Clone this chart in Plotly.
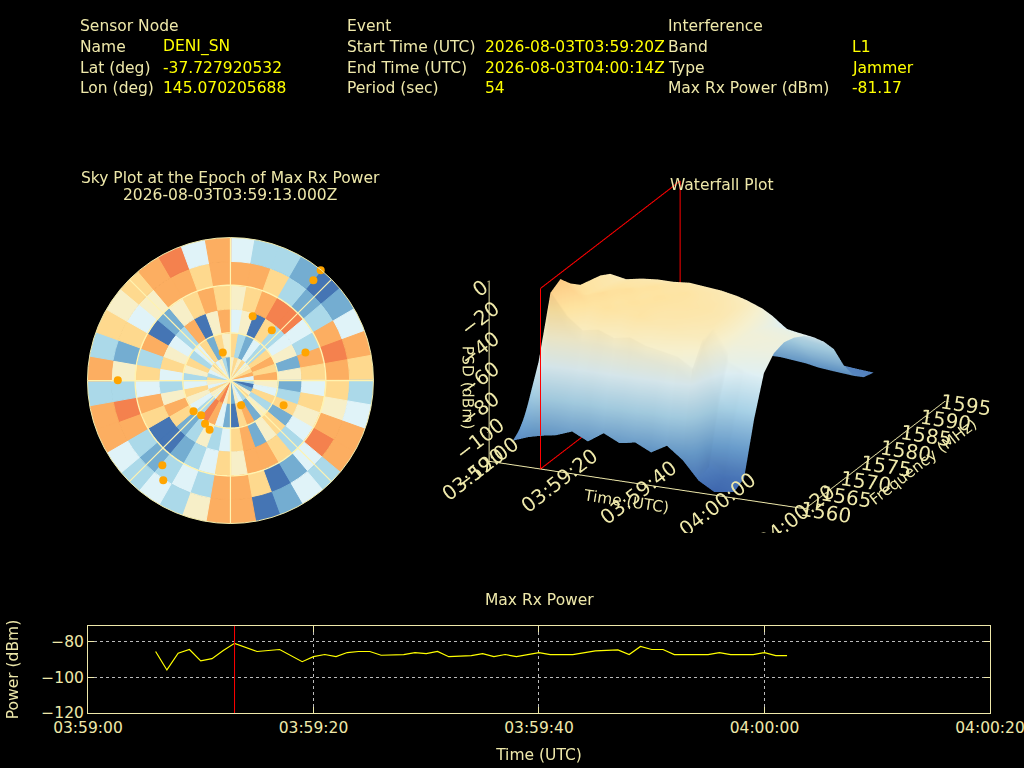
import plotly.graph_objects as go

DAY = "2026-08-03 "
CREAM = "#eee8aa"
YELLOW = "#ffff00"
FONT = "DejaVu Sans"
FS = 15.5

# header block
header_labels = [
    ["Sensor Node", "Name", "Lat (deg)", "Lon (deg)"],
    ["Event", "Start Time (UTC)", "End Time (UTC)", "Period (sec)"],
    ["Interference", "Band", "Type", "Max Rx Power (dBm)"],
]
header_values = [
    ["", "DENI_SN", "-37.727920532", "145.070205688"],
    ["", "2026-08-03T03:59:20Z", "2026-08-03T04:00:14Z", "54"],
    ["", "L1", "Jammer", "-81.17"],
]

# max rx power series
power_times = ["03:59:06", "03:59:07", "03:59:08", "03:59:09", "03:59:10", "03:59:11",
               "03:59:12", "03:59:13", "03:59:15", "03:59:17", "03:59:19", "03:59:20",
               "03:59:21", "03:59:22", "03:59:23", "03:59:24", "03:59:25", "03:59:26",
               "03:59:28", "03:59:29", "03:59:30", "03:59:31", "03:59:32", "03:59:34",
               "03:59:35", "03:59:36", "03:59:37", "03:59:38", "03:59:40", "03:59:41",
               "03:59:43", "03:59:45", "03:59:47", "03:59:48", "03:59:49", "03:59:50",
               "03:59:51", "03:59:52", "03:59:55", "03:59:56", "03:59:57", "03:59:59",
               "04:00:00", "04:00:01", "04:00:02"]
power_dbm = [-85.7, -96.0, -86.7, -84.6, -90.9, -89.7, -85.1, -81.17, -85.7, -84.6, -91.4,
             -88.6, -87.4, -88.6, -86.3, -85.7, -85.7, -87.8, -87.4, -86.3, -86.9, -85.7,
             -88.6, -88.0, -86.9, -88.6, -87.4, -88.6, -86.3, -87.4, -87.4, -85.4, -84.8,
             -87.4, -82.9, -84.6, -84.6, -87.4, -87.4, -86.3, -87.4, -87.4, -86.3, -88.0,
             -88.0]
max_epoch = "03:59:13"
time_ticks = ["03:59:00", "03:59:20", "03:59:40", "04:00:00", "04:00:20"]

# waterfall (PSD per time row, per frequency column)
wf_times = ["03:59:06", "03:59:10", "03:59:13", "03:59:17", "03:59:21", "03:59:25",
            "03:59:29", "03:59:33", "03:59:37", "03:59:41", "03:59:45", "03:59:49",
            "03:59:53", "03:59:57", "04:00:02"]
wf_freqs = [1560, 1562.5, 1565, 1567.5, 1570, 1572.5, 1575, 1577.5, 1580, 1582.5,
            1585, 1587.5, 1590, 1592.5, 1595]
wf_psd = [
    [-104, -98, -88, -84, -86, -88, -90, -92, -94, -96, -98, -100, -103, -106, -108],
    [-100, -55, -35, -30, -32, -34, -36, -40, -48, -58, -70, -85, -98, -104, -106],
    [-98, -8, -4, -12, -18, -20, -22, -26, -35, -48, -62, -80, -96, -103, -106],
    [-96, -22, -12, -18, -20, -22, -24, -28, -36, -46, -60, -78, -95, -102, -105],
    [-92, -30, -20, -15, -18, -20, -22, -26, -34, -45, -58, -76, -94, -102, -105],
    [-97, -28, -18, -20, -16, -20, -22, -25, -33, -44, -57, -75, -93, -101, -104],
    [-90, -32, -22, -18, -20, -18, -21, -25, -33, -44, -57, -75, -93, -101, -104],
    [-95, -30, -20, -20, -18, -20, -20, -24, -32, -43, -56, -74, -92, -100, -104],
    [-93, -34, -24, -22, -20, -19, -22, -25, -33, -44, -57, -75, -93, -101, -104],
    [-98, -36, -25, -22, -21, -22, -23, -26, -34, -45, -58, -76, -94, -101, -104],
    [-92, -38, -28, -24, -22, -23, -25, -28, -36, -47, -60, -78, -95, -102, -105],
    [-100, -45, -30, -26, -25, -26, -28, -32, -40, -50, -62, -80, -96, -103, -106],
    [-112, -108, -70, -45, -40, -40, -42, -45, -50, -58, -68, -84, -98, -104, -106],
    [-118, -114, -80, -50, -42, -41, -43, -46, -52, -60, -70, -86, -99, -105, -107],
    [-116, -112, -78, -52, -44, -42, -44, -48, -54, -62, -72, -88, -100, -106, -108],
]

# sky plot: 10 deg azimuth sectors, 15 deg zenith rings (inner -> outer), level 1..8
sky_az = [5, 15, 25, 35, 45, 55, 65, 75, 85, 95, 105, 115, 125, 135, 145, 155, 165, 175,
          185, 195, 205, 215, 225, 235, 245, 255, 265, 275, 285, 295, 305, 315, 325, 335,
          345, 355]
sky_ring_base = [0, 15, 30, 45, 60, 75]
sky_levels = [
    [5, 6, 4, 5, 7, 4], [6, 3, 5, 6, 7, 3], [5, 2, 1, 7, 6, 3], [6, 4, 6, 8, 3, 2],
    [4, 3, 3, 8, 2, 1], [5, 6, 4, 4, 3, 2], [6, 7, 5, 3, 7, 4], [7, 6, 2, 7, 8, 7],
    [4, 7, 5, 6, 7, 6], [3, 5, 2, 4, 6, 3], [1, 4, 3, 6, 5, 4], [2, 6, 6, 5, 7, 7],
    [5, 3, 2, 4, 8, 7], [6, 5, 6, 3, 4, 3], [3, 2, 5, 6, 2, 4], [4, 7, 2, 7, 1, 2],
    [5, 6, 7, 7, 6, 1], [2, 1, 6, 5, 7, 7], [6, 2, 4, 6, 7, 7], [5, 4, 3, 4, 3, 5],
    [8, 7, 5, 3, 4, 3], [7, 8, 3, 2, 3, 4], [4, 3, 2, 1, 2, 3], [5, 4, 6, 1, 3, 4],
    [6, 5, 7, 6, 7, 7], [4, 6, 5, 7, 8, 7], [5, 4, 3, 4, 3, 3], [6, 3, 4, 6, 5, 7],
    [3, 5, 6, 3, 2, 3], [4, 6, 5, 7, 6, 6], [5, 3, 4, 1, 4, 5], [6, 4, 3, 2, 5, 6],
    [4, 6, 7, 5, 7, 7], [5, 2, 1, 6, 7, 8], [3, 6, 5, 7, 6, 4], [2, 5, 7, 6, 7, 7],
]
sky_palette = ["#4575b4", "#74add1", "#abd9e9", "#e0f3f8", "#f7efc8",
               "#fed98e", "#fcae61", "#f4814e"]
sky_rings = [30, 60]
sky_spokes = [0, 45, 90, 135, 180, 225, 270, 315]

# satellites (az, el) at the epoch
sat_az = [39.3, 39.6, 19.1, 39.4, 69.5, 344.7, 270.2, 156.6, 115.0, 230.3, 220.2,
          210.5, 203.0, 218.8, 214.0]
sat_el = [0.3, 8.1, 47.2, 49.0, 39.6, 71.7, 19.1, 73.1, 53.1, 59.8, 61.4, 58.5, 56.4,
          21.6, 14.4]


def secs(hms, ref=time_ticks[0]):
    # seconds elapsed since the first tick, used for the 3d time axis
    h, m, s = (int(v) for v in hms.split(":"))
    h0, m0, s0 = (int(v) for v in ref.split(":"))
    return (h - h0) * 3600 + (m - m0) * 60 + (s - s0)


fig = go.Figure()

# ---- sky plot
th, rr, bb, cc = [], [], [], []
for az, levels in zip(sky_az, sky_levels):
    for base, lv in zip(sky_ring_base, levels):
        th.append(az)
        rr.append(15)
        bb.append(base)
        cc.append(sky_palette[lv - 1])
fig.add_trace(go.Barpolar(theta=th, r=rr, base=bb, width=10.3,
                          marker=dict(color=cc, line=dict(color=cc, width=1)),
                          hoverinfo="skip", showlegend=False))
# grid drawn on top of the cells
circle = list(range(0, 361, 2))
for ring in sky_rings:
    fig.add_trace(go.Scatterpolar(theta=circle, r=[ring] * len(circle), mode="lines",
                                  line=dict(color="#fff3b0", width=1.4), hoverinfo="skip",
                                  showlegend=False))
for sp in sky_spokes:
    fig.add_trace(go.Scatterpolar(theta=[sp, sp], r=[0, 90], mode="lines",
                                  line=dict(color="#fff3b0", width=1.2), hoverinfo="skip",
                                  showlegend=False))
fig.add_trace(go.Scatterpolar(theta=sat_az, r=[90 - e for e in sat_el], mode="markers",
                              marker=dict(color="#ffa500", size=8),
                              showlegend=False))

# ---- waterfall
t_wf = [secs(t) for t in wf_times]
fig.add_trace(go.Surface(
    x=t_wf, y=wf_freqs, z=[list(col) for col in zip(*wf_psd)],
    cmin=-120, cmax=0, showscale=False,
    colorscale=[[0, "#3a62ab"], [0.2, "#6b9fcf"], [0.38, "#a9d3e8"], [0.55, "#dff0f5"],
                [0.7, "#f6f0cf"], [0.85, "#fee3a0"], [1, "#fdc47c"]],
    lighting=dict(ambient=0.95, diffuse=0.15, specular=0.0, roughness=1.0, fresnel=0.0),
    hoverinfo="skip"))
fig.add_trace(go.Scatter3d(
    x=[secs(max_epoch)] * 5,
    y=[wf_freqs[0], wf_freqs[-1], wf_freqs[-1], wf_freqs[0], wf_freqs[0]],
    z=[0, 0, -120, -120, 0], mode="lines", line=dict(color="red", width=2),
    showlegend=False, hoverinfo="skip"))

# ---- max rx power
t_pw = [DAY + t for t in power_times]
t_max = DAY + max_epoch
fig.add_trace(go.Scatter(x=t_pw, y=power_dbm, mode="lines",
                         line=dict(color=YELLOW, width=1.2), showlegend=False))
fig.add_shape(type="line", x0=t_max, x1=t_max, y0=0, y1=1, xref="x", yref="y domain",
              line=dict(color="#ff0000", width=1), layer="above")

axis3d = dict(showbackground=False, showgrid=False, zeroline=False, showline=True,
              linecolor=CREAM, linewidth=2, ticks="outside", tickcolor=CREAM,
              tickfont=dict(color=CREAM, size=FS, family=FONT),
              showspikes=False)
title3d = dict(font=dict(color=CREAM, size=FS, family=FONT))

fig.update_layout(
    width=1024, height=768, margin=dict(l=0, r=0, t=0, b=0, autoexpand=False),
    paper_bgcolor="black", plot_bgcolor="black",
    font=dict(family=FONT, color=CREAM, size=FS),
    modebar=dict(bgcolor="rgba(0,0,0,0)", color="rgba(0,0,0,0)",
                 activecolor="rgba(0,0,0,0)"),
    polar=dict(
        domain=dict(x=[0.0854, 0.3647], y=[0.318, 0.691]),
        bgcolor="black", bargap=0, hole=0,
        radialaxis=dict(range=[0, 90], showticklabels=False, ticks="", showgrid=False,
                        showline=False),
        angularaxis=dict(rotation=90, direction="clockwise", showticklabels=False,
                         ticks="", showgrid=False, linecolor=CREAM, linewidth=1),
    ),
    scene=dict(
        domain=dict(x=[0.40, 1.0], y=[0.306, 0.806]),
        bgcolor="black",
        xaxis=dict(axis3d, range=[0, secs(time_ticks[-1])],
                   tickvals=[secs(t) for t in time_ticks], ticktext=time_ticks,
                   title=dict(title3d, text="Time (UTC)")),
        yaxis=dict(axis3d, range=[1560, 1595], dtick=5,
                   title=dict(title3d, text="Frequency (MHz)")),
        zaxis=dict(axis3d, range=[-120, 0], dtick=20,
                   title=dict(title3d, text="PSD (dBm)")),
        aspectmode="manual", aspectratio=dict(x=1.8, y=1.8, z=1.0),
        camera=dict(eye=dict(x=0.76, y=-1.72, z=0.68), center=dict(x=0, y=0, z=0),
                    projection=dict(type="orthographic")),
    ),
    xaxis=dict(domain=[0.0859, 0.9668], type="date", automargin=False,
               range=[DAY + time_ticks[0], DAY + time_ticks[-1]], dtick=20000,
               tickformat="%H:%M:%S", showline=True, linecolor=CREAM, mirror="ticks",
               ticks="inside", ticklen=6, tickcolor=CREAM, showgrid=True,
               gridcolor="#bbbbbb", griddash="dot", gridwidth=1, zeroline=False,
               ticklabeloverflow="allow",
               tickfont=dict(color=CREAM, size=FS),
               title=dict(text="Time (UTC)", standoff=13, font=dict(size=FS))),
    yaxis=dict(domain=[0.0716, 0.1849], range=[-120, -71.5], tickvals=[-120, -100, -80],
               automargin=False, showline=True, linecolor=CREAM, mirror="ticks",
               ticks="inside", ticklen=6, tickcolor=CREAM, showgrid=True,
               gridcolor="#bbbbbb", griddash="dot", zeroline=False,
               tickfont=dict(color=CREAM, size=FS),
               title=dict(text="Power (dBm)", standoff=18, font=dict(size=FS))),
)

# text annotations
col_x = [(78, 161), (345, 483), (666, 850)]
row_y = [26, 47, 68, 88]
for (lx, vx), labels, values in zip(col_x, header_labels, header_values):
    for y, lab, val in zip(row_y, labels, values):
        fig.add_annotation(x=lx / 1024, y=1 - y / 768, xref="paper", yref="paper",
                           text=lab, showarrow=False, xanchor="left", yanchor="middle",
                           font=dict(color=CREAM))
        if val:
            fig.add_annotation(x=vx / 1024, y=1 - y / 768, xref="paper", yref="paper",
                               text=val, showarrow=False, xanchor="left",
                               yanchor="middle", font=dict(color=YELLOW))

titles = [(230, 178, "Sky Plot at the Epoch of Max Rx Power"),
          (230, 195, "2026-08-03T03:59:13.000Z"),
          (722, 185, "Waterfall Plot"),
          (539, 600, "Max Rx Power")]
for x, y, txt in titles:
    fig.add_annotation(x=x / 1024, y=1 - y / 768, xref="paper", yref="paper", text=txt,
                       showarrow=False, xanchor="center", yanchor="middle")

fig.write_html(
    "out.html",
    post_script="document.body.style.margin='0';"
                "var st=document.createElement('style');"
                "st.innerHTML='.modebar-container{display:none !important;}';"
                "document.head.appendChild(st);")
